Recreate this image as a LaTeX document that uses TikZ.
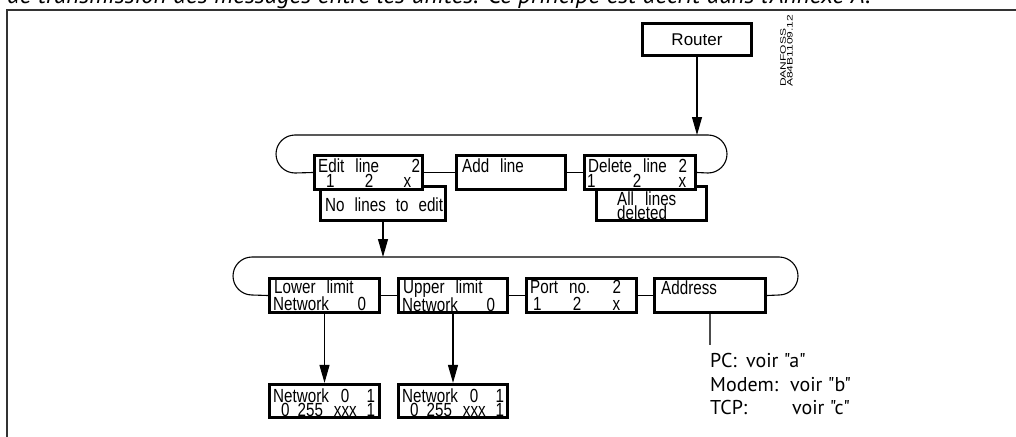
\documentclass[tikz,border=0pt]{standalone}
\usepackage{fontspec}
\setmainfont{PT Sans}
\newfontfamily\notefont[Ligatures=TeXOff]{PT Sans}
\newfontfamily\cadfont[FakeStretch=0.8]{Liberation Sans}
\newfontfamily\helvfont{Liberation Sans}
\newfontfamily\tinyfont[FakeStretch=1.5]{Liberation Sans}
\usetikzlibrary{arrows.meta,calc}
\newcommand{\twolines}[3]{\parbox[t]{#1}{#2\\#3}}
\tikzset{
  cadbox/.style={draw, line width=3.2pt, fill=white, rectangle, inner sep=0pt},
  cad/.style={font=\cadfont\fontsize{19}{15}\selectfont, inner sep=0pt, anchor=base west},
  conn/.style={line width=1.1pt, draw=black},
  arr/.style={conn, -{Triangle[length=18pt,width=10pt]}},
  note/.style={font=\notefont\fontsize{20}{20}\selectfont, inner sep=0pt, anchor=base west},
}
\begin{document}
\begin{tikzpicture}[x=1pt,y=-1pt]
\useasboundingbox (0,0) rectangle (1016,436);
\clip (0,0) rectangle (1016,436);
% frame and cut header text
\draw[line width=1.6pt, draw=black!80] (1030,10) -- (7,10) -- (7,450);
\node[font=\itshape\fontsize{25}{25}\selectfont, inner sep=0pt, anchor=base west] (hdr) at (7,4)
  {de transmission des messages entre les unités. Ce principe est décrit dans l'Annexe A.};

% Router
\node[cadbox, minimum width=109pt, minimum height=32pt] (router) at (697,39.5) {};
\node[font=\helvfont\fontsize{17}{17}\selectfont, inner sep=0pt] (routerT) at (697,40) {Router};
\node[font=\tinyfont\fontsize{8}{6.8}\selectfont, inner sep=0pt, rotate=90, anchor=north west, align=left] (danfoss) at (780,87) {DANFOSS\\A84B1109.12};

% top level boxes
\node[cadbox, minimum width=125pt, minimum height=34pt] (nolines) at (383,203.5) {};
\node[cadbox, minimum width=110pt, minimum height=34pt] (alllines) at (651.5,203.5) {};
\node[cadbox, minimum width=108pt, minimum height=34pt] (edit) at (368.5,172.5) {};
\node[cadbox, minimum width=109pt, minimum height=34pt] (add) at (511,172.5) {};
\node[cadbox, minimum width=111pt, minimum height=34pt] (delete) at (640,172.5) {};

\node[cad] (editT) at (318,172) {\twolines{102pt}{Edit\hspace{11pt}line\hfill 2}{\hspace*{8pt}1\hfill 2\hfill x\hspace*{9pt}}};
\node[cad] (addT) at (462,172) {Add\hspace{11pt}line};
\node[cad] (delT) at (588,172) {\twolines{99pt}{Delete\hspace{11pt}line\hfill 2}{\hspace*{-1pt}1\hfill 2\hfill x\hspace*{1pt}}};
\node[cad] (nolT) at (325,211) {No\hspace{10pt}lines\hspace{10pt}to\hspace{10pt}edit};
\node[cad, font=\cadfont\fontsize{19}{14}\selectfont] (allT) at (617,205) {\twolines{80pt}{All\hspace{11pt}lines}{deleted}};

% top loop
\coordinate (loopAin) at (697,135);
\draw[conn] (edit.west) -- (295,173) arc[start angle=90, end angle=270, radius=19]
  -- (708,135) arc[start angle=-90, end angle=90, radius=19] -- (delete.east);
\draw[conn] (edit.east) -- (add.west);
\draw[conn] (add.east) -- (delete.west);
\draw[arr] (router.south) -- (loopAin);

% second level boxes
\node[cadbox, minimum width=110pt, minimum height=34pt] (lower) at (324.5,295.5) {};
\node[cadbox, minimum width=109pt, minimum height=34pt] (upper) at (453,295.5) {};
\node[cadbox, minimum width=110pt, minimum height=34pt] (port) at (581.5,295.5) {};
\node[cadbox, minimum width=111pt, minimum height=34pt] (address) at (710,295.5) {};

\node[cad, font=\cadfont\fontsize{19}{17}\selectfont] (lowT) at (274,293) {\twolines{92pt}{Lower\hspace{11pt}limit}{\hspace*{-1pt}Network\hfill 0}};
\node[cad, font=\cadfont\fontsize{19}{17}\selectfont] (upT) at (403,293) {\twolines{92pt}{Upper\hspace{11pt}limit}{\hspace*{-1pt}Network\hfill 0}};
\node[cad, font=\cadfont\fontsize{19}{17}\selectfont] (portT) at (530,293) {\twolines{91pt}{Port\hspace{11pt}no.\hfill 2}{\hspace*{3pt}1\hfill 2\hfill x\hspace*{1pt}}};
\node[cad] (addrT) at (661,294) {Address};

% second loop
\coordinate (loopBin) at (383,257);
\draw[conn] (lower.west) -- (252,295) arc[start angle=90, end angle=270, radius=19]
  -- (779,257) arc[start angle=-90, end angle=90, radius=19] -- (address.east);
\draw[conn] (lower.east) -- (upper.west);
\draw[conn] (upper.east) -- (port.west);
\draw[conn] (port.east) -- (address.west);
\draw[arr] (nolines.south) -- (loopBin);

% network boxes
\node[cadbox, minimum width=110pt, minimum height=33pt] (net1) at (324.5,401) {};
\node[cadbox, minimum width=109pt, minimum height=33pt] (net2) at (453,401) {};
\draw[arr] (lower.south) -- (net1.north);
\draw[arr] (upper.south) -- (net2.north);

\node[cad, font=\cadfont\fontsize{19}{14}\selectfont] (n1T) at (273,402) {\twolines{102pt}{Network\hspace{12pt}0\hfill 1}{\hspace*{8pt}0\hspace{8pt}255\hspace{11pt}xxx\hfill 1}};
\node[cad, font=\cadfont\fontsize{19}{14}\selectfont] (n2T) at (402,402) {\twolines{102pt}{Network\hspace{12pt}0\hfill 1}{\hspace*{8pt}0\hspace{8pt}255\hspace{11pt}xxx\hfill 1}};

% address note
\coordinate (addrEnd) at (710,345);
\draw[conn, draw=black!70] (address.south) -- (addrEnd);
\node[note] (pcK) at (710,367) {PC:};
\node[note] (pcV) at (746,367) {voir "a"};
\node[note] (moK) at (710,391) {Modem:};
\node[note] (moV) at (790,391) {voir "b"};
\node[note] (tcK) at (710,414) {TCP:};
\node[note] (tcV) at (792,414) {voir "c"};
\end{tikzpicture}
\end{document}
